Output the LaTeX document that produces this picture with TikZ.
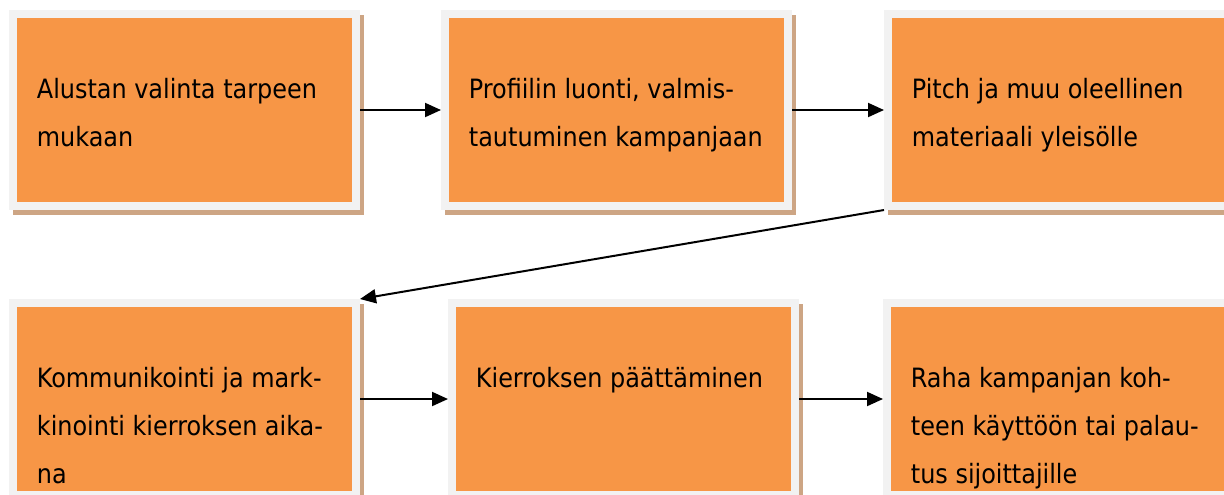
\documentclass[tikz,border=0pt]{standalone}
\usepackage{fontspec}
\newfontfamily\boxfont{DejaVu Sans Condensed}
\usepackage{tikz}
\usetikzlibrary{arrows.meta, positioning}

\definecolor{boxorange}{RGB}{247,150,70}
\definecolor{framegray}{RGB}{242,242,242}
\definecolor{shadowtan}{RGB}{205,165,132}

\begin{document}
\begin{tikzpicture}[
      x=0.5pt, y=-0.5pt,
      stepbox/.style={draw=framegray, fill=boxorange, line width=4pt, minimum width=171.5pt, minimum height=96pt, inner sep=0pt,
        preaction={draw=shadowtan, fill=shadowtan, transform canvas={shift={(2pt,-2.5pt)}}}},
      steptext/.style={anchor=north west, align=left, inner sep=0pt, font=\boxfont\fontsize{13.3}{24}\selectfont},
      flow/.style={-{Triangle[length=8pt, width=7pt]}, line width=1pt}
    ]
      \useasboundingbox (0,0) rectangle (1224,494);
      \clip (0,0) rectangle (1224,494);

      % First row
      \node[stepbox] (platform) at (184.5,110) {};
      \node[stepbox, anchor=west] (profile) at ([xshift=40.5pt]platform.east) {};
      \node[stepbox, anchor=west] (pitch) at ([xshift=46pt]profile.east) {};

      % Second row
      \node[stepbox] (promo) at (184.5,399) {};
      \node[stepbox, anchor=west] (closing) at ([xshift=44pt]promo.east) {};
      \node[stepbox, anchor=west] (payout) at ([xshift=42pt]closing.east) {};

      % Texts - top of first line relative to the box corner
      \node[steptext] (platform-txt) at ([xshift=13.75pt, yshift=-34pt]platform.north west) {Alustan valinta tarpeen\\mukaan};
      \node[steptext] (profile-txt) at ([xshift=13.75pt, yshift=-34pt]profile.north west) {Profiilin luonti, valmis-\\tautuminen kampanjaan};
      \node[steptext] (pitch-txt) at ([xshift=13.75pt, yshift=-34pt]pitch.north west) {Pitch ja muu oleellinen\\materiaali yleisölle};
      \node[steptext] (promo-txt) at ([xshift=13.75pt, yshift=-34pt]promo.north west) {Kommunikointi ja mark-\\kinointi kierroksen aika-\\na};
      \node[steptext] (closing-txt) at ([xshift=13.75pt, yshift=-34pt]closing.north west) {Kierroksen päättäminen};
      \node[steptext] (payout-txt) at ([xshift=13.75pt, yshift=-34pt]payout.north west) {Raha kampanjan koh-\\teen käyttöön tai palau-\\tus sijoittajille};

      % Arrows between the steps
      \draw[flow] (platform.east) -- (profile.west);
      \draw[flow] (profile.east) -- (pitch.west);
      \draw[flow] (pitch.south west) -- (promo.north east);
      \draw[flow] (promo.east) -- (closing.west);
      \draw[flow] (closing.east) -- (payout.west);

    \end{tikzpicture}
\end{document}
